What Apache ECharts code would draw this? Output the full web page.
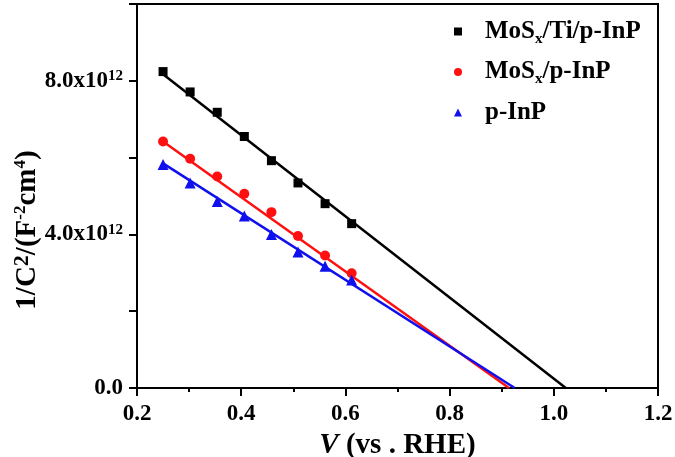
<!DOCTYPE html>
<html>
<head>
<meta charset="utf-8">
<script src="https://cdn.jsdelivr.net/npm/echarts@6/dist/echarts.min.js"></script>
<style>html,body{margin:0;padding:0;background:#fff}#c{width:675px;height:457px}</style>
</head>
<body>
<div id="c"></div>
<script>
// Data
var potential = [0.250, 0.302, 0.354, 0.406, 0.458, 0.509, 0.561, 0.612];
var mosTiInP = [8.24e12, 7.71e12, 7.18e12, 6.55e12, 5.92e12, 5.34e12, 4.80e12, 4.28e12];
var mosInP   = [6.42e12, 5.97e12, 5.51e12, 5.06e12, 4.58e12, 3.96e12, 3.45e12, 2.99e12];
var pInP     = [5.82e12, 5.34e12, 4.86e12, 4.48e12, 4.00e12, 3.54e12, 3.17e12, 2.81e12];
// Linear fits (start point and x-intercept)
var fitMosTiX = [0.25, 1.023];
var fitMosTiY = [8.17e12, 0];
var fitMosX = [0.25, 0.914];
var fitMosY = [6.42e12, 0];
var fitPX = [0.25, 0.925];
var fitPY = [5.85e12, 0];
var seriesNames = ['MoSx/Ti/p-InP', 'MoSx/p-InP', 'p-InP'];
var legendLabels = ['{m|MoS}{sub|x}{m|/Ti/p-InP}', '{m|MoS}{sub|x}{m|/p-InP}', '{m|p-InP}'];
var xTicks = {min: 0.2, max: 1.2, interval: 0.2};
var yTicks = {min: 0, max: 10e12, interval: 2e12, labeled: [0, 4e12, 8e12]};

function pairs(xs, ys) { return xs.map(function (x, i) { return [x, ys[i]]; }); }

var FF = '"Liberation Serif", "Times New Roman", serif';
var chart = echarts.init(document.getElementById('c'), null, {renderer: 'canvas'});
var option = {
  animation: false,
  backgroundColor: '#fff',
  grid: {left: 137, right: 17, top: 4, bottom: 69, show: true, borderColor: '#000', borderWidth: 2, containLabel: false, outerBoundsMode: 'none'},
  xAxis: {
    type: 'value', min: xTicks.min, max: xTicks.max, interval: xTicks.interval,
    axisLine: {lineStyle: {color: '#000', width: 2}},
    axisTick: {length: 8, lineStyle: {color: '#000', width: 2}},
    minorTick: {show: true, splitNumber: 2, length: 4, lineStyle: {color: '#000', width: 2}},
    splitLine: {show: false},
    axisLabel: {formatter: function (v) { return v.toFixed(1); }, color: '#000', fontFamily: FF, fontWeight: 'bold', fontSize: 23, margin: 15},
    name: '{i|V}{n| (vs . RHE)}', nameLocation: 'middle', nameGap: 31,
    nameTextStyle: {rich: {
      i: {fontFamily: FF, fontStyle: 'italic', fontWeight: 'bold', fontSize: 29, color: '#000'},
      n: {fontFamily: FF, fontWeight: 'bold', fontSize: 29, color: '#000'}
    }}
  },
  yAxis: {
    type: 'value', min: yTicks.min, max: yTicks.max, interval: yTicks.interval,
    axisLine: {lineStyle: {color: '#000', width: 2}},
    axisTick: {length: 8, lineStyle: {color: '#000', width: 2}},
    splitLine: {show: false},
    axisLabel: {
      formatter: function (v) {
        if (yTicks.labeled.indexOf(v) < 0) return '';
        if (v === 0) return '{a|0.0}';
        return '{a|' + (v / 1e12).toFixed(1) + 'x10}{s|12}';
      },
      margin: 14,
      rich: {
        a: {fontFamily: FF, fontWeight: 'bold', fontSize: 23, color: '#000'},
        s: {fontFamily: FF, fontWeight: 'bold', fontSize: 15, color: '#000', padding: [0, 0, 9, 0]}
      }
    },
    name: '{m|1/C}{s1|2}{m|/(F}{s|-2}{m|cm}{s|4}{m|)}', nameLocation: 'middle', nameGap: 92, nameMoveOverlap: false,
    nameTextStyle: {padding: [0, 68, 0, 0], rich: {
      m: {fontFamily: FF, fontWeight: 'bold', fontSize: 29, color: '#000'},
      s1: {fontFamily: FF, fontWeight: 'bold', fontSize: 22, color: '#000', padding: [0, 0, 12, 0]},
      s: {fontFamily: FF, fontWeight: 'bold', fontSize: 17, color: '#000', padding: [0, 0, 14, 0]}
    }}
  },
  legend: {
    orient: 'vertical', left: 449, top: 14, itemWidth: 8, itemHeight: 8, itemGap: 13,
    data: [{name: seriesNames[0], icon: 'rect'}, {name: seriesNames[1], icon: 'circle'}, {name: seriesNames[2], icon: 'triangle'}],
    formatter: function (n) { return legendLabels[seriesNames.indexOf(n)]; },
    textStyle: {padding: [0, 0, 0, 18], rich: {
      m: {fontFamily: FF, fontWeight: 'bold', fontSize: 25, color: '#000'},
      sub: {fontFamily: FF, fontWeight: 'bold', fontSize: 15, color: '#000', padding: [15, 0, 0, 0]}
    }}
  },
  series: [
    {type: 'line', data: pairs(fitMosTiX, fitMosTiY), showSymbol: false, lineStyle: {color: '#000', width: 2.5}, itemStyle: {color: '#000'}, silent: true, z: 2},
    {type: 'line', data: pairs(fitMosX, fitMosY), showSymbol: false, lineStyle: {color: '#ff1010', width: 2.5}, itemStyle: {color: '#ff1010'}, silent: true, z: 2},
    {type: 'line', data: pairs(fitPX, fitPY), showSymbol: false, lineStyle: {color: '#1010ee', width: 2.5}, itemStyle: {color: '#1010ee'}, silent: true, z: 2},
    {name: seriesNames[0], type: 'scatter', symbol: 'rect', symbolSize: 9, data: pairs(potential, mosTiInP), itemStyle: {color: '#000', opacity: 1}, z: 3},
    {name: seriesNames[1], type: 'scatter', symbol: 'circle', symbolSize: 10, data: pairs(potential, mosInP), itemStyle: {color: '#ff1010', opacity: 1}, z: 3},
    {name: seriesNames[2], type: 'scatter', symbol: 'triangle', symbolSize: 11, data: pairs(potential, pInP), itemStyle: {color: '#1010ee', opacity: 1}, z: 3}
  ]
};
chart.setOption(option);
</script>
</body>
</html>
